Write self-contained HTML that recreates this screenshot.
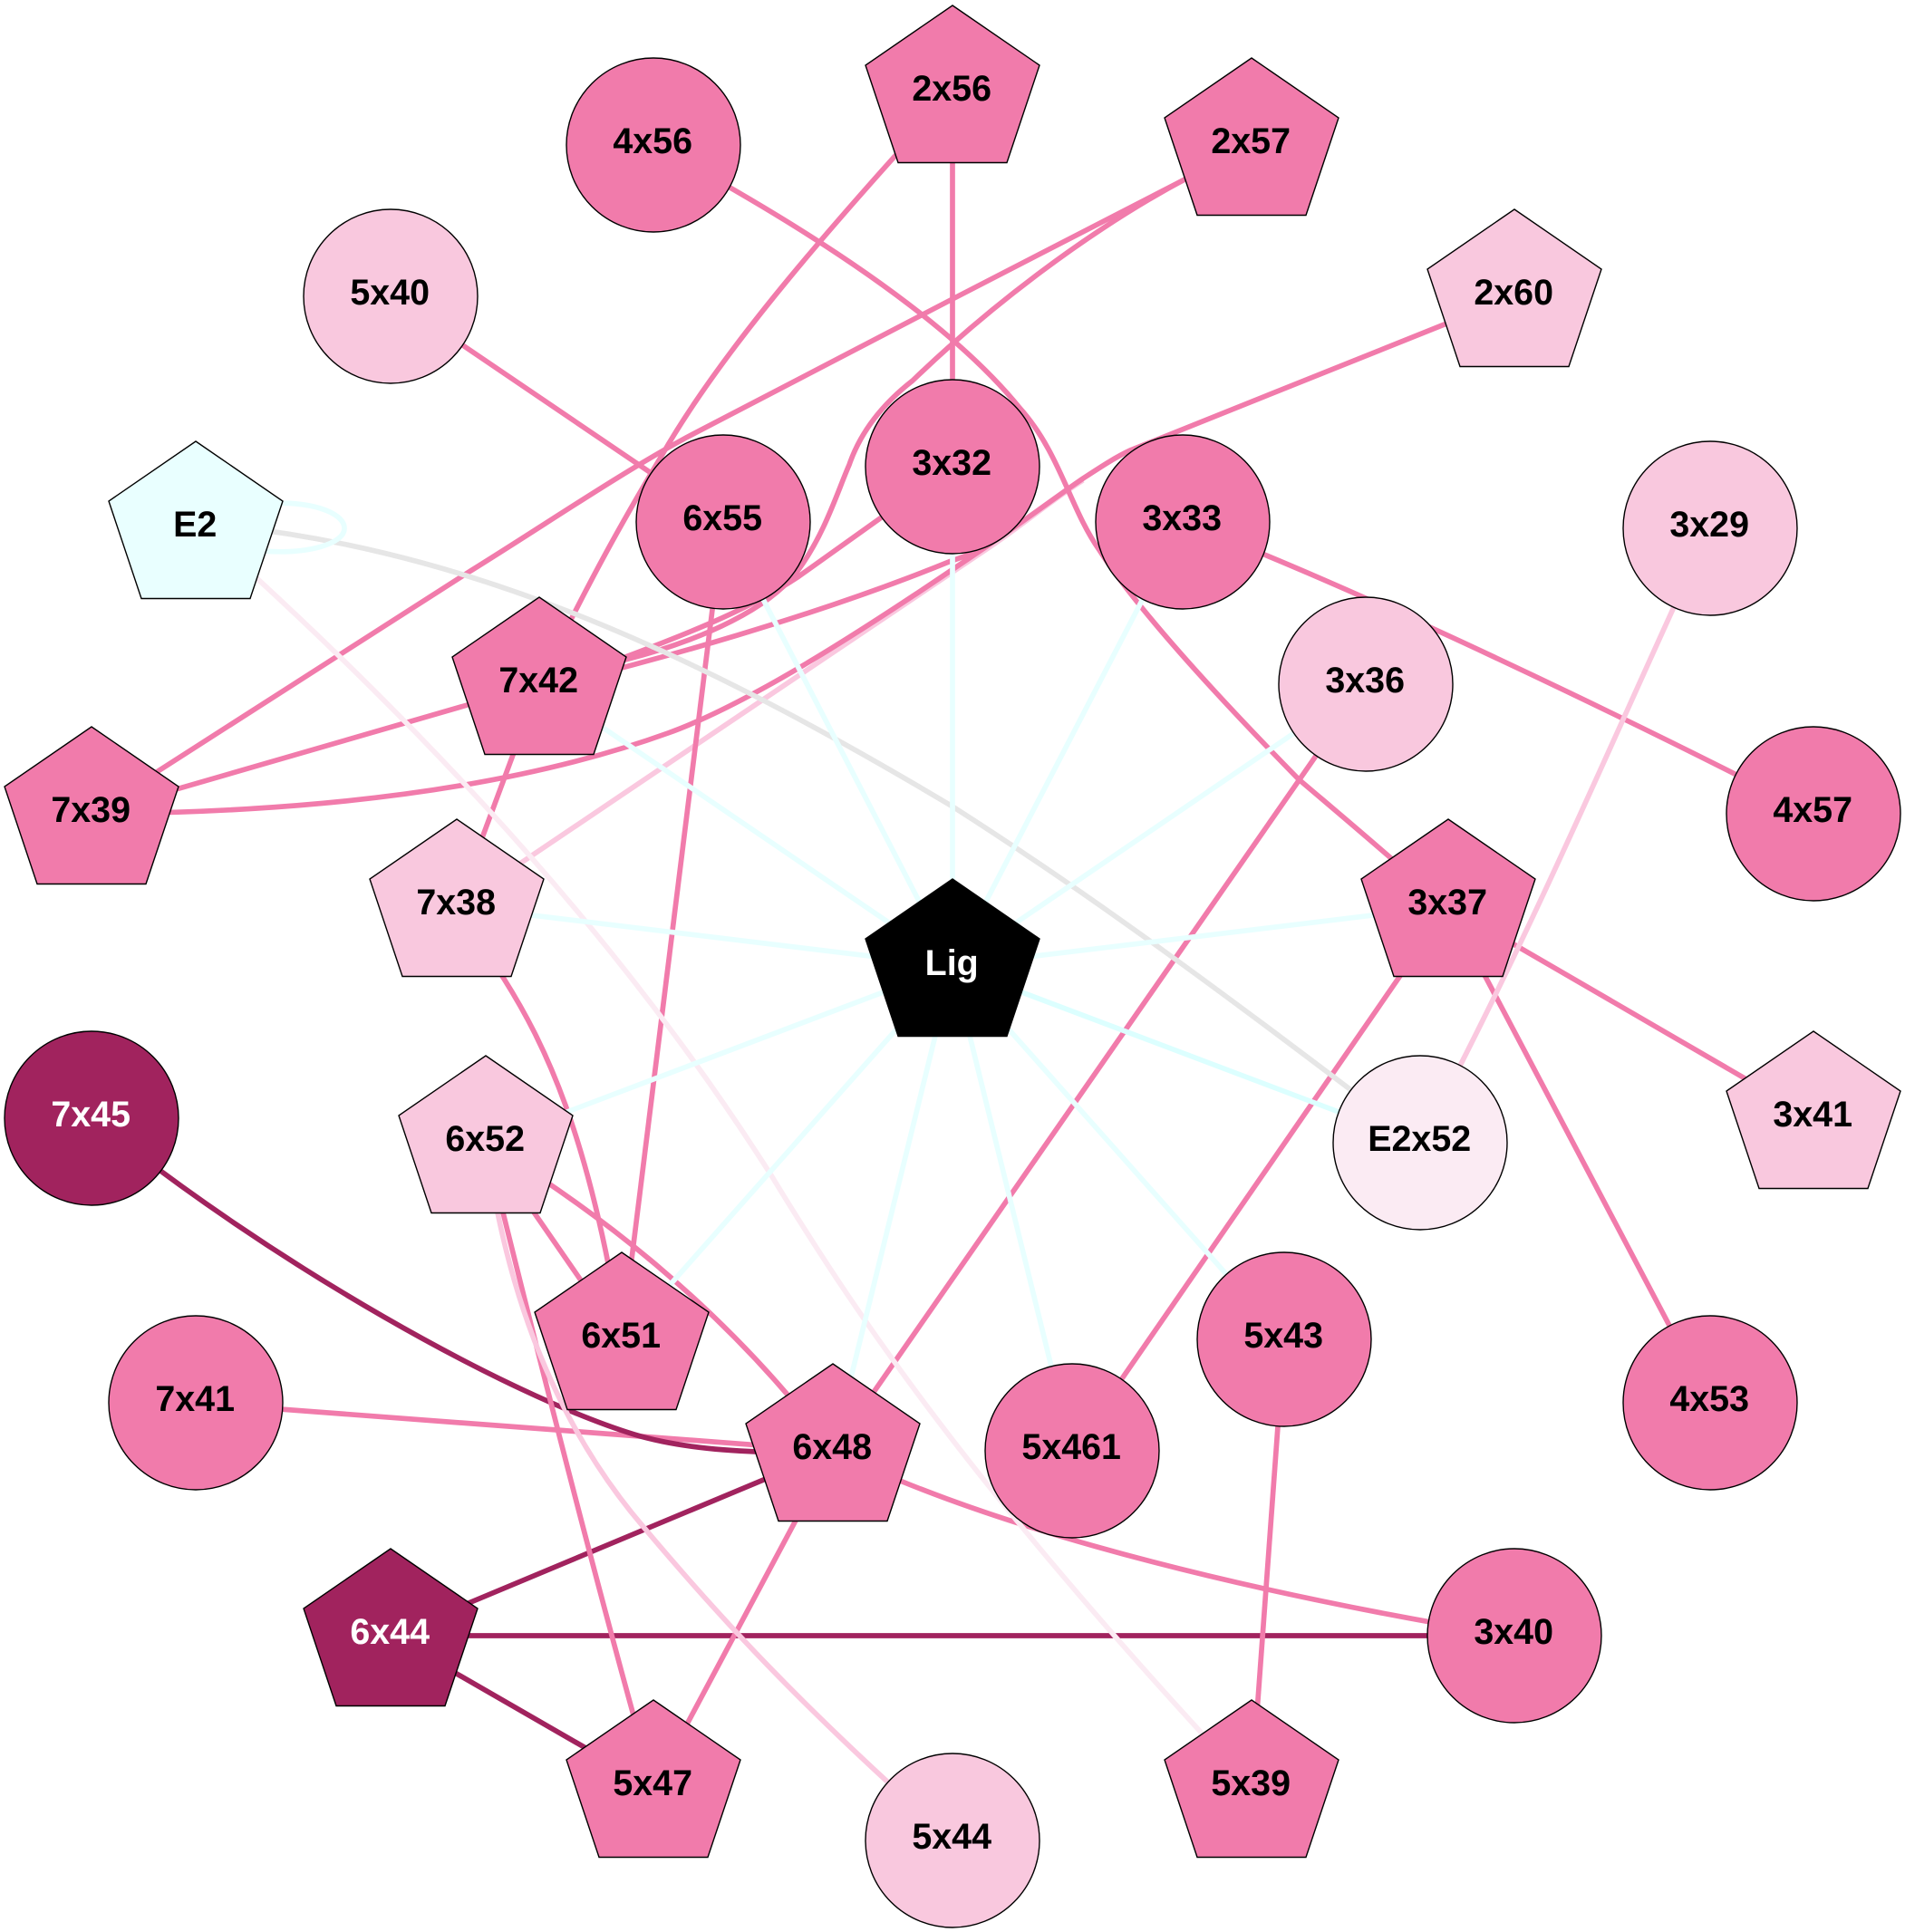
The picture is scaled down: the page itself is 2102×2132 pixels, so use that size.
<!DOCTYPE html>
<html>
<head>
<meta charset="utf-8">
<style>
html,body{margin:0;padding:0;background:#fff;}
svg{display:block;}
text{font-family:"Liberation Sans",sans-serif;font-weight:bold;font-size:39.4px;text-anchor:middle;fill:#000;transform:translate(-.8px,-1px);}
text.w{fill:#fff;}
path,line{fill:none;stroke-width:5.7;}
.p{stroke:#f17bab;}
.d{stroke:#a1235e;}
.l{stroke:#fac8df;}
.v{stroke:#fbebf3;}
.c{stroke:#e8ffff;}
.cc{stroke:#dcffff;}
.g{stroke:#e6e6e6;}
polygon,circle{stroke:#000;stroke-width:1.4;}
</style>
</head>
<body>
<svg width="2102" height="2132" viewBox="0 0 2102 2132" xmlns="http://www.w3.org/2000/svg">
<rect width="2102" height="2132" fill="#fff"/>

<!-- edges -->
<path class="p" d="M216,1548 L919,1601"/>
<path class="d" d="M101,1233 C300,1395 560,1540 700,1583 C760,1601 830,1603 919,1604"/>
<path class="d" d="M431,1805 L919,1601"/>
<path class="d" d="M431,1805 L1671,1805"/>
<path class="d" d="M431,1805 L721,1972"/>
<path class="l" d="M504,1000 L885,743 L1093,603 C1130,578 1160,552 1195,530"/>

<path class="p" d="M721,160 C870,240 1040,345 1125,450 C1170,500 1180,560 1213,607 C1250,665 1330,755 1433,860 C1480,900 1540,950 1598,1003"/>
<path class="p" d="M1051,102 L1051,515"/>
<path class="p" d="M1051,102 C930,235 800,380 730,503 C690,570 650,640 595,755"/>
<path class="p" d="M1381,160 L1051,330 L757,483 C680,525 600,580 516,632 L101,898"/>
<path class="p" d="M595,760 L690,728 C780,705 850,670 880,630 C910,590 925,540 937,513 C950,475 975,445 1007,420 C1090,340 1200,255 1309,197 L1381,160"/>
<path class="p" d="M595,760 L690,725 C770,695 830,670 880,637 L1051,515"/>
<path class="p" d="M101,898 C300,897 540,880 737,809 C840,772 990,670 1093,600 C1130,575 1160,552 1195,528 C1215,515 1230,505 1247,497 L1671,327"/>
<path class="p" d="M595,760 C720,730 900,680 1047,620 C1070,612 1080,608 1093,600"/>
<path class="p" d="M504,1000 L556,1080 C600,1150 650,1250 686,1478"/>
<path class="p" d="M595,755 L504,1000"/>
<path class="p" d="M101,898 L595,755"/>
<path class="p" d="M798,576 L686,1478"/>
<path class="p" d="M536,1261 L686,1478"/>
<path class="p" d="M536,1261 C640,1325 790,1430 919,1601"/>
<path class="p" d="M536,1261 C580,1440 650,1720 721,1972"/>
<path class="p" d="M919,1601 L721,1972"/>
<path class="p" d="M919,1601 C1060,1670 1300,1745 1671,1806"/>
<path class="p" d="M1417,1478 L1381,1972"/>
<path class="p" d="M1507,755 L919,1601"/>
<path class="p" d="M1598,1000 L1183,1601"/>
<path class="p" d="M1598,1000 L1887,1548"/>
<path class="p" d="M1598,1000 L2001,1234"/>
<path class="p" d="M1305,576 C1500,650 1790,790 2001,898"/>
<path class="p" d="M431,327 L798,576"/>

<path class="l" d="M536,1261 C560,1440 620,1580 710,1685 C790,1780 880,1880 1051,2031"/>
<path class="l" d="M1887,583 C1790,790 1700,1010 1567,1261"/>
<path class="v" d="M216,577 C500,830 700,1060 851,1297 C950,1460 1080,1650 1381,1972"/>
<path class="g" d="M216,577 C500,600 750,710 1051,890 C1200,985 1350,1095 1567,1261"/>

<path class="c" d="M1051,1066 L798,576"/>
<path class="c" d="M1051,1066 L1051,515"/>
<path class="c" d="M1051,1066 L1305,576"/>
<path class="c" d="M1051,1066 L1507,755"/>
<path class="c" d="M1051,1066 L1598,1000"/>
<path class="c" d="M1051,1066 L595,755"/>
<path class="c" d="M1051,1066 L504,1000"/>
<path class="c" d="M1051,1066 L536,1261"/>
<path class="c" d="M1051,1066 L686,1478"/>
<path class="c" d="M1051,1066 L919,1601"/>
<path class="c" d="M1051,1066 L1183,1601"/>
<path class="c" d="M1051,1066 L1417,1478"/>
<path class="cc" d="M1051,1066 L1567,1261"/>
<path class="c" d="M295,556 C340,552 380,565 380,583 C380,600 340,612 290,608"/>

<!-- nodes -->
<circle cx="721" cy="160" r="96" fill="#f17bab"/><text x="721" y="170">4x56</text>
<circle cx="431" cy="327" r="96" fill="#f9c8de"/><text x="431" y="337">5x40</text>
<circle cx="798" cy="576" r="96" fill="#f17bab"/><text x="798" y="586">6x55</text>
<circle cx="1051" cy="515" r="96" fill="#f17bab"/><text x="1051" y="525">3x32</text>
<circle cx="1305" cy="576" r="96" fill="#f17bab"/><text x="1305" y="586">3x33</text>
<circle cx="1887" cy="583" r="96" fill="#f9c8de"/><text x="1887" y="593">3x29</text>
<circle cx="1507" cy="755" r="96" fill="#f9c8de"/><text x="1507" y="765">3x36</text>
<circle cx="2001" cy="898" r="96" fill="#f17bab"/><text x="2001" y="908">4x57</text>
<circle cx="101" cy="1234" r="96" fill="#a1235e"/><text class="w" x="101" y="1244">7x45</text>
<circle cx="216" cy="1548" r="96" fill="#f17bab"/><text x="216" y="1558">7x41</text>
<circle cx="1183" cy="1601" r="96" fill="#f17bab"/><text x="1183" y="1611">5x461</text>
<circle cx="1417" cy="1478" r="96" fill="#f17bab"/><text x="1417" y="1488">5x43</text>
<circle cx="1887" cy="1548" r="96" fill="#f17bab"/><text x="1887" y="1558">4x53</text>
<circle cx="1671" cy="1805" r="96" fill="#f17bab"/><text x="1671" y="1815">3x40</text>
<circle cx="1051" cy="2031" r="96" fill="#f9c8de"/><text x="1051" y="2041">5x44</text>
<circle cx="1567" cy="1261" r="96" fill="#fbebf3"/><text x="1567" y="1271">E2x52</text>

<polygon transform="translate(216,583)" points="0,-96 96,-30 60,77.5 -60,77.5 -96,-30" fill="#e9ffff"/><text x="216" y="593">E2</text>
<polygon transform="translate(1051,102)" points="0,-96 96,-30 60,77.5 -60,77.5 -96,-30" fill="#f17bab"/><text x="1051" y="112">2x56</text>
<polygon transform="translate(1381,160)" points="0,-96 96,-30 60,77.5 -60,77.5 -96,-30" fill="#f17bab"/><text x="1381" y="170">2x57</text>
<polygon transform="translate(1671,327)" points="0,-96 96,-30 60,77.5 -60,77.5 -96,-30" fill="#f9c8de"/><text x="1671" y="337">2x60</text>
<polygon transform="translate(595,755)" points="0,-96 96,-30 60,77.5 -60,77.5 -96,-30" fill="#f17bab"/><text x="595" y="765">7x42</text>
<polygon transform="translate(101,898)" points="0,-96 96,-30 60,77.5 -60,77.5 -96,-30" fill="#f17bab"/><text x="101" y="908">7x39</text>
<polygon transform="translate(504,1000)" points="0,-96 96,-30 60,77.5 -60,77.5 -96,-30" fill="#f9c8de"/><text x="504" y="1010">7x38</text>
<polygon transform="translate(1598,1000)" points="0,-96 96,-30 60,77.5 -60,77.5 -96,-30" fill="#f17bab"/><text x="1598" y="1010">3x37</text>
<polygon transform="translate(1051,1066)" points="0,-96 96,-30 60,77.5 -60,77.5 -96,-30" fill="#000"/><text class="w" x="1051" y="1077">Lig</text>
<polygon transform="translate(536,1261)" points="0,-96 96,-30 60,77.5 -60,77.5 -96,-30" fill="#f9c8de"/><text x="536" y="1271">6x52</text>
<polygon transform="translate(686,1478)" points="0,-96 96,-30 60,77.5 -60,77.5 -96,-30" fill="#f17bab"/><text x="686" y="1488">6x51</text>
<polygon transform="translate(919,1601)" points="0,-96 96,-30 60,77.5 -60,77.5 -96,-30" fill="#f17bab"/><text x="919" y="1611">6x48</text>
<polygon transform="translate(431,1805)" points="0,-96 96,-30 60,77.5 -60,77.5 -96,-30" fill="#a1235e"/><text class="w" x="431" y="1815">6x44</text>
<polygon transform="translate(721,1972)" points="0,-96 96,-30 60,77.5 -60,77.5 -96,-30" fill="#f17bab"/><text x="721" y="1982">5x47</text>
<polygon transform="translate(1381,1972)" points="0,-96 96,-30 60,77.5 -60,77.5 -96,-30" fill="#f17bab"/><text x="1381" y="1982">5x39</text>
<polygon transform="translate(2001,1234)" points="0,-96 96,-30 60,77.5 -60,77.5 -96,-30" fill="#f9c8de"/><text x="2001" y="1244">3x41</text>
</svg>
</body>
</html>
